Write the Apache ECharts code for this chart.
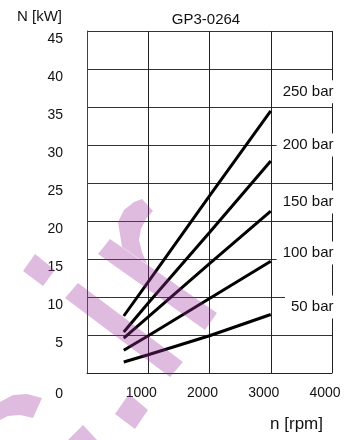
<!DOCTYPE html>
<html>
<head>
<meta charset="utf-8">
<script src="https://cdn.jsdelivr.net/npm/echarts@6/dist/echarts.min.js"></script>
<style>
  html, body { margin: 0; padding: 0; background: #fff; }
  #main { width: 349px; height: 440px; }
</style>
</head>
<body>
<div id="main"></div>
<script>
// rpm points
const rpm = [600, 1000, 2000, 3000]
// power N [kW] per pressure
const bar250 = [7.5, 12.0, 23.3, 34.5]
const bar200 = [5.4, 9.2, 18.5, 27.9]
const bar150 = [4.6, 7.4, 14.4, 21.3]
const bar100 = [3.0, 4.9, 9.8, 14.7]
const bar50 = [1.45, 2.4, 4.9, 7.7]
const pressureNames = ['250 bar', '200 bar', '150 bar', '100 bar', '50 bar']
// where the pressure labels sit (N value)
const labelN = [37, 30, 22.5, 15.8, 8.7]
const yTicks = [0, 5, 10, 15, 20, 25, 30, 35, 40, 45]
const xTicks = [0, 1000, 2000, 3000, 4000]

const myChart = echarts.init(document.getElementById('main'))
const font = 'Liberation Sans, Arial, sans-serif'
const allSeries = [bar250, bar200, bar150, bar100, bar50]

// watermark (decoration only)
const wm = 'rgba(160, 50, 160, 0.33)'
const wmShapes = [
  [[118, 222], [124, 210], [134, 202], [142, 199], [153, 211], [146, 219], [141, 229], [139, 240], [142, 252], [147, 264], [122, 247]],
  [[110, 239], [217, 313], [205, 330], [98, 254]],
  [[78, 283], [183, 362], [170, 377], [65, 298]],
  [[35, 254], [55, 270], [43, 286], [23, 271]],
  [[0, 402], [13, 395], [27, 394], [42, 398], [33, 418], [20, 415], [8, 416], [0, 420]],
  [[129, 394], [148, 410], [135, 429], [115, 414]],
  [[83, 425], [97, 440], [68, 440]]
]

const option = {
  animation: false,
  textStyle: { fontFamily: font },
  title: {
    text: 'GP3-0264',
    left: 201,
    top: 7,
    textAlign: 'center',
    textStyle: { fontSize: 15, fontWeight: 'normal', color: '#111', fontFamily: font }
  },
  grid: { left: 87, right: 17, top: 31, bottom: 67, containLabel: false },
  xAxis: {
    type: 'value',
    min: xTicks[0],
    max: xTicks[xTicks.length - 1],
    interval: 1000,
    name: 'n [rpm]',
    nameLocation: 'end',
    nameGap: -9,
    nameTextStyle: { fontSize: 17, color: '#111', align: 'right', verticalAlign: 'top', padding: [43, 0, 0, 0] },
    axisLine: { show: true, lineStyle: { color: '#222', width: 1 } },
    axisTick: { show: false },
    axisLabel: {
      margin: 13,
      fontSize: 14,
      color: '#111',
      padding: [0, 14, 0, 0],
      formatter: v => (v === 0 ? '' : String(v))
    },
    splitLine: { show: true, lineStyle: { color: '#222', width: 1 } }
  },
  yAxis: {
    type: 'value',
    min: yTicks[0],
    max: yTicks[yTicks.length - 1],
    interval: 5,
    name: 'N [kW]',
    nameLocation: 'end',
    nameGap: 14,
    nameTextStyle: { fontSize: 15, color: '#111', align: 'right', verticalAlign: 'middle', padding: [0, 25, 0, 0] },
    axisLine: { show: true, lineStyle: { color: '#444', width: 1 } },
    axisTick: { show: false },
    axisLabel: {
      margin: 24,
      fontSize: 14,
      color: '#111',
      verticalAlign: 'top',
      padding: [1, 0, 0, 0],
      formatter: v => (v === 0 ? '{z|0}' : String(v)),
      rich: { z: { fontSize: 14, color: '#111', padding: [13, 0, 0, 0] } }
    },
    splitLine: { show: true, lineStyle: { color: '#333', width: 1 } }
  },
  series: allSeries.map((vals, i) => ({
    name: pressureNames[i],
    type: 'line',
    data: rpm.map((r, j) => [r, vals[j]]),
    showSymbol: false,
    clip: false,
    lineStyle: { color: '#000', width: 3 },
    markPoint: {
      symbol: 'rect',
      symbolSize: 1,
      itemStyle: { color: 'rgba(255,255,255,0)' },
      label: {
        show: true,
        position: 'left',
        distance: 0,
        offset: [3, 0],
        formatter: pressureNames[i],
        fontSize: 15,
        color: '#111',
        backgroundColor: '#fff',
        padding: [4, 1, 4, 6]
      },
      data: [{ coord: [4000, labelN[i]] }]
    }
  })),
  graphic: wmShapes.map(pts => ({
    type: 'polygon',
    z: 100,
    silent: true,
    shape: { points: pts },
    style: { fill: wm }
  }))
}

myChart.setOption(option)
</script>
</body>
</html>
